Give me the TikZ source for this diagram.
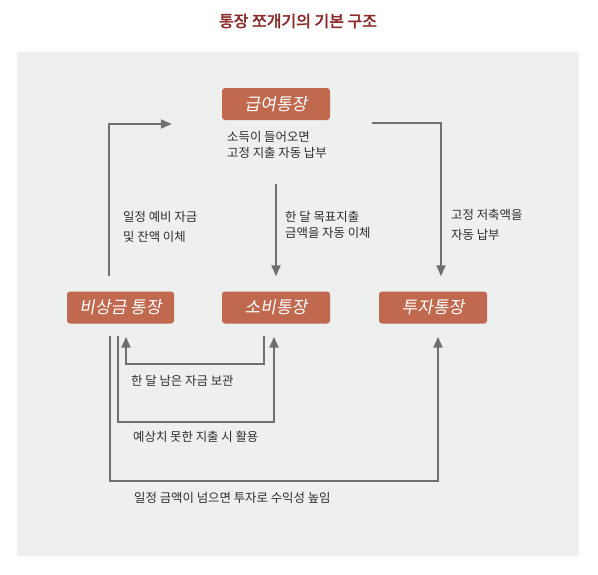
\documentclass[tikz,border=0pt]{standalone}
\usepackage{fontspec}
\setmainfont{Noto Sans CJK KR}
\newfontfamily\krfont{Noto Sans CJK KR}
\newfontfamily\krslant[FakeSlant=0.18]{Noto Sans CJK KR}
\newfontfamily\krbold[FakeBold=2.5]{Noto Sans CJK KR}
\usetikzlibrary{arrows.meta}
\definecolor{bgc}{HTML}{EEEFEF}
\definecolor{boxc}{HTML}{C0694F}
\definecolor{linec}{HTML}{707070}
\definecolor{txtc}{HTML}{2E2E2E}
\definecolor{titlec}{HTML}{8A2A2A}
\tikzset{
  acct/.style={fill=boxc, rounded corners=3pt, minimum width=108pt, minimum height=32pt,
    inner sep=0pt, text=white, font=\krslant\fontsize{17}{17}\selectfont},
  conn/.style={draw=linec, line width=2pt},
  arr/.style={conn, -{Triangle[length=11pt,width=9pt]}},
  lbl/.style={text=txtc, anchor=west, inner sep=0pt, align=left},
  lblA/.style={lbl, font=\krfont\fontsize{12.4}{16}\selectfont},
  lblB/.style={lbl, font=\krfont\fontsize{12.4}{20}\selectfont},
}
\begin{document}
\begin{tikzpicture}[x=1pt, y=-1pt]
\useasboundingbox (0,0) rectangle (598,574);
\fill[bgc] (17,52) rectangle (579,556);
\node[text=titlec, font=\krbold\fontsize{16}{18}\selectfont] (title) at (298,21) {통장 쪼개기의 기본 구조};

\node[acct] (salary) at (276,104) {급여통장};
\node[acct, minimum width=107pt] (emerg) at (120.5,307.5) {비상금 통장};
\node[acct] (spend) at (276,307.5) {소비통장};
\node[acct] (invest) at (433,307.5) {투자통장};

% top connectors
\draw[arr] ([xshift=-11.5pt,yshift=15pt]emerg.north) |- ([xshift=-50pt,yshift=-20pt]salary.west);
\draw[arr] ([xshift=42pt,yshift=-19pt]salary.east) -| ([xshift=8pt,yshift=15pt]invest.north);
\draw[arr] ([yshift=-64pt]salary.south) -- ([yshift=15pt]spend.north);

% bottom loops
\draw[arr] ([xshift=-12pt,yshift=-12pt]spend.south) -- ++(0,-28pt) -| ([xshift=5.5pt,yshift=-13pt]emerg.south);
\draw[arr] ([xshift=-2.5pt,yshift=-12pt]emerg.south) -- ++(0,-86pt) -| ([xshift=-2pt,yshift=-13pt]spend.south);
\draw[arr] ([xshift=-10.5pt,yshift=-12pt]emerg.south) -- ++(0,-145pt) -| ([xshift=5pt,yshift=-13pt]invest.south);

% labels
\node[lblA] (l1) at (227,145) {소득이 들어오면\\고정 지출 자동 납부};
\node[lblB] (l2) at (123,227) {일정 예비 자금\\및 잔액 이체};
\node[lblA] (l3) at (285,225) {한 달 목표지출\\금액을 자동 이체};
\node[lblB] (l4) at (451,224.5) {고정 저축액을\\자동 납부};
\node[lblA] (l5) at (131,381) {한 달 남은 자금 보관};
\node[lblA] (l6) at (133,437) {예상치 못한 지출 시 활용};
\node[lblA] (l7) at (134,498) {일정 금액이 넘으면 투자로 수익성 높임};
\end{tikzpicture}
\end{document}
